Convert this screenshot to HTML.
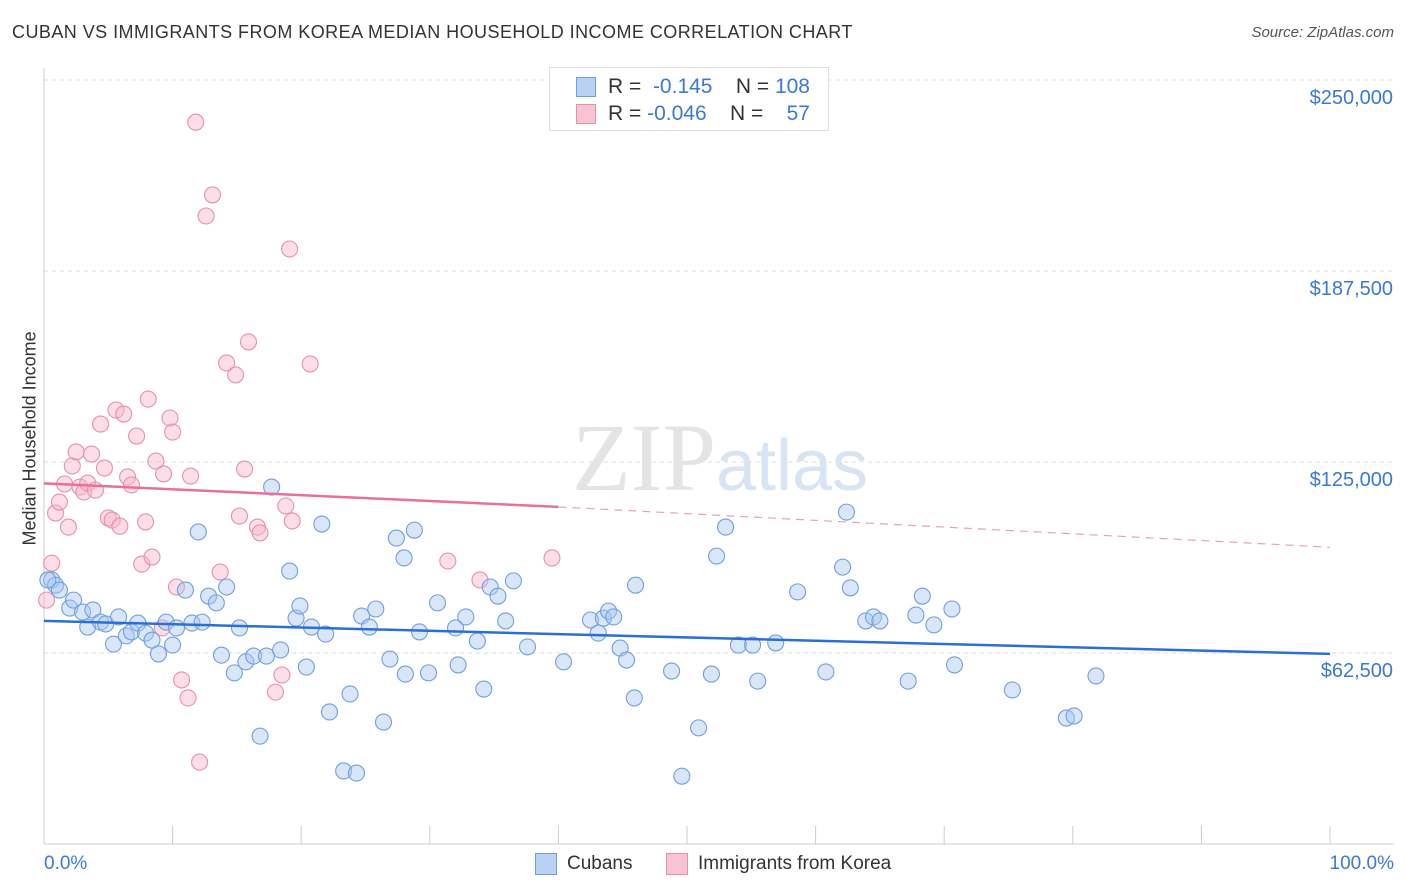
<!DOCTYPE html>
<html><head><meta charset="utf-8">
<style>
body{margin:0;background:#fff;font-family:"Liberation Sans",sans-serif;}
#wrap{position:relative;width:1406px;height:892px;overflow:hidden;}
.t{position:absolute;white-space:nowrap;}
</style></head>
<body>
<div id="wrap">
<div class="t" style="left:12px;top:22px;font-size:18px;color:#333;letter-spacing:0.45px;">CUBAN VS IMMIGRANTS FROM KOREA MEDIAN HOUSEHOLD INCOME CORRELATION CHART</div>
<div class="t" style="right:12px;top:24px;font-size:15px;color:#555;font-style:italic;">Source: ZipAtlas.com</div>
<svg id="svg" width="1406" height="892" style="position:absolute;left:0;top:0"></svg>
</div>
<script>
const blueX=[0.6,0.9,1.2,2.0,2.3,3.0,3.4,3.8,4.4,4.8,5.4,5.8,6.4,6.8,7.3,7.9,8.4,8.9,9.5,10.0,10.3,11.0,11.5,12.0,12.3,12.8,13.4,14.2,13.8,14.8,15.2,15.7,16.3,16.8,17.3,17.7,18.4,19.1,19.6,19.9,20.4,20.8,21.6,21.9,22.2,23.8,23.3,24.3,24.7,25.3,25.8,26.4,26.9,27.4,28.1,28.0,28.8,29.2,29.9,30.6,32.0,32.2,32.8,33.7,34.2,34.7,35.3,35.9,36.5,37.6,40.4,42.5,43.1,43.5,43.9,44.3,44.8,45.3,45.9,46.0,48.8,49.6,50.9,51.9,52.3,53.0,54.0,55.1,55.5,56.9,58.6,60.8,62.1,62.4,62.7,63.9,64.5,65.0,67.2,67.8,68.3,69.2,70.8,70.6,75.3,79.5,80.1,81.8,0.3];
const blueV=[86.4,84.7,83.1,77.2,79.8,75.9,71.0,76.6,72.6,72.0,65.4,74.3,68.1,69.4,72.3,69.0,66.7,62.2,72.6,65.1,70.7,83.1,72.3,102.1,72.6,81.1,78.9,84.1,61.8,56.0,70.7,59.6,61.5,35.3,61.5,116.8,63.5,89.3,73.9,77.9,57.9,71.0,104.7,68.7,43.2,49.1,23.9,23.2,74.6,71.0,76.9,39.9,60.5,100.1,55.6,93.6,102.7,69.4,56.0,78.9,70.7,58.6,74.3,66.4,50.7,84.1,81.1,73.0,86.1,64.5,59.6,73.3,69.0,73.9,76.2,74.3,64.1,60.2,47.8,84.7,56.6,22.2,38.0,55.6,94.2,103.7,65.1,65.1,53.3,65.8,82.5,56.3,90.6,108.6,83.8,73.0,74.3,73.0,53.3,74.9,81.1,71.7,58.6,76.9,50.4,41.2,41.9,55.0,86.4];
const pinkX=[0.2,0.6,0.9,1.2,1.6,1.9,2.2,2.5,2.8,3.1,3.4,3.7,4.0,4.4,4.7,5.0,5.3,5.6,5.9,6.2,6.5,6.8,7.2,7.6,7.9,8.1,8.4,8.7,9.2,9.3,9.8,10.0,10.3,10.7,11.2,11.4,11.8,12.1,12.6,13.1,13.7,14.2,14.9,15.2,15.6,15.9,16.6,16.8,18.0,18.5,18.8,19.1,19.3,20.7,31.4,33.9,39.5];
const pinkV=[79.8,91.9,108.3,111.9,117.8,103.7,123.7,128.3,116.8,115.2,118.1,127.6,115.8,137.4,123.0,106.7,106.0,142.0,104.0,140.7,120.1,117.5,133.5,91.6,105.4,145.6,93.9,125.3,70.7,121.1,139.4,134.8,84.1,53.7,47.8,120.4,236.2,26.8,205.5,212.4,89.0,157.4,153.5,107.3,122.7,164.3,103.7,101.8,49.7,55.3,110.6,194.7,105.7,157.1,92.6,86.4,93.6];
const blueTrendX=[0,100], blueTrendV=[73.0,62.2];
const pinkTrendX=[0,40,100], pinkTrendV=[118.0,110.3,97.1];
const yTicks=[62.5,125,187.5,250];
const yTickLabels=["$62,500","$125,000","$187,500","$250,000"];

const X0=44,X1=1330,Y0=844,PX=191/62.5;
const sx=p=>X0+(X1-X0)*p/100, sy=v=>Y0-v*PX;
const svg=document.getElementById('svg');const NS='http://www.w3.org/2000/svg';
function mk(t,a,p){const e=document.createElementNS(NS,t);for(const k in a)e.setAttribute(k,a[k]);(p||svg).appendChild(e);return e;}
yTicks.forEach((v,i)=>{
 const g=mk('line',{x1:X0,x2:1394,y1:sy(v),y2:sy(v),stroke:'#ddd','stroke-dasharray':'4,4'});
 
 
 const t=mk('text',{x:1393,y:sy(v)+24,'text-anchor':'end','font-size':20,fill:'#3b78d8','font-family':'Liberation Sans'});
 t.textContent=yTickLabels[i];
 
 
});
const ax=mk('line',{x1:X0,x2:X0,y1:68,y2:Y0,stroke:'#ccc'});


const bx=mk('line',{x1:X0,x2:1394,y1:Y0,y2:Y0,stroke:'#ccc'});


for(let i=1;i<=10;i++){const tk=mk('line',{x1:sx(i*10),x2:sx(i*10),y1:Y0,y2:Y0-18,stroke:'#ccc'});
 
 }
const wm=mk('text',{x:720,y:490,'text-anchor':'middle','font-size':96,'font-family':'Liberation Serif',fill:'#e4e4e4'});
wm.innerHTML='ZIP<tspan fill="#d6e4f4" font-family="Liberation Sans" font-size="72">atlas</tspan>';


function pts(xs,vs,fill,stroke,name){xs.forEach((x,i)=>{
 const c=mk('circle',{cx:sx(x),cy:sy(vs[i]),r:8,fill:fill,'fill-opacity':0.45,stroke:stroke,'stroke-width':1.1});
 
 });}
pts(pinkX,pinkV,'#f7b6c9','#e890ab','korea-point');
pts(blueX,blueV,'#a9c7ef','#6f9fe0','cuban-point');
const bl=mk('line',{x1:sx(blueTrendX[0]),y1:sy(blueTrendV[0]),x2:sx(blueTrendX[1]),y2:sy(blueTrendV[1]),stroke:'#2a6fd6','stroke-width':2.5});


const pl=mk('line',{x1:sx(pinkTrendX[0]),y1:sy(pinkTrendV[0]),x2:sx(pinkTrendX[1]),y2:sy(pinkTrendV[1]),stroke:'#e8709a','stroke-width':2.5});


const pd=mk('line',{x1:sx(pinkTrendX[1]),y1:sy(pinkTrendV[1]),x2:sx(pinkTrendX[2]),y2:sy(pinkTrendV[2]),stroke:'#e8a0b8','stroke-width':1.2,'stroke-dasharray':'8,6'});


</script>
<div class="t" style="left:-60px;top:445px;transform:rotate(-90deg);font-size:18px;color:#333;width:180px;text-align:center;">Median Household Income</div>
<div class="t" style="left:44px;top:853px;font-size:19px;color:#3b78d8;">0.0%</div>
<div class="t" style="right:12px;top:853px;font-size:19px;color:#3b78d8;">100.0%</div>
<div style="position:absolute;left:549px;top:67px;width:278px;height:62px;border:1px solid #ddd;background:#fff;font-size:21px;color:#333;">
 <div style="position:absolute;left:26px;top:9px;width:18px;height:18px;background:#b9d2f3;border:1px solid #6f9fe0;"></div>
 <div class="t" style="left:58px;top:7px;">R = <span style="color:#3b78d8">&nbsp;-0.145</span>&nbsp;&nbsp;&nbsp;&nbsp;N = <span style="color:#3b78d8">108</span></div>
 <div style="position:absolute;left:26px;top:36px;width:18px;height:18px;background:#f8c4d3;border:1px solid #e890ab;"></div>
 <div class="t" style="left:58px;top:34px;">R = <span style="color:#3b78d8">-0.046</span>&nbsp;&nbsp;&nbsp;&nbsp;N = &nbsp;&nbsp;&nbsp;<span style="color:#3b78d8">57</span></div>
</div>
<div style="position:absolute;left:535px;top:852px;font-size:19px;color:#333;">
 <div style="position:absolute;left:0;top:1px;width:20px;height:20px;background:#b9d2f3;border:1px solid #6f9fe0;"></div>
 <div class="t" style="left:32px;top:1px;">Cubans</div>
 <div style="position:absolute;left:131px;top:1px;width:20px;height:20px;background:#f8c4d3;border:1px solid #e890ab;"></div>
 <div class="t" style="left:163px;top:1px;">Immigrants from Korea</div>
</div>
</body></html>
